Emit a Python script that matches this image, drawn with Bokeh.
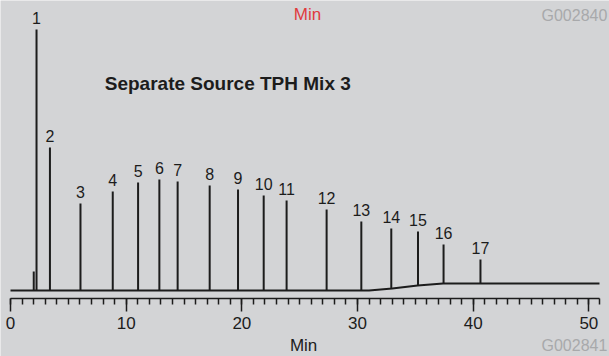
import numpy as np
from bokeh.plotting import figure
from bokeh.models import Range1d, LinearAxis, FixedTicker, Label, ColumnDataSource
from bokeh.core.properties import value
from bokeh.embed import file_html
from bokeh.resources import INLINE

# ---- data ----
peak_labels = [str(i) for i in range(1, 18)]
peak_times = [2.25, 3.41, 6.05, 8.84, 11.03, 12.87, 14.45, 17.22, 19.67,
              21.89, 23.87, 27.33, 30.33, 32.92, 35.23, 37.44, 40.63]
peak_heights = [261, 143, 87, 99, 108, 111, 109, 105, 101,
                95, 90, 81, 69, 62, 59, 46, 31]
minor_peak_times = [2.01]
minor_peak_heights = [19]
baseline_times = [0, 31.0, 33.0, 35.2, 37.4, 50.92]
baseline_levels = [0, 0, 2, 5, 7, 7]
major_ticks = [0, 10, 20, 30, 40, 50]
minor_ticks = list(range(0, 51)) + [50.92]
axis_end = 50.92

BG = "#d3d4d6"
INK = "#1c1c1c"
FONT = "Liberation Sans"
LABEL_GAP = 12   # px above the peak apex

p = figure(width=609, height=356,
           x_range=Range1d(-0.8646, 51.786), y_range=Range1d(-66, 290),
           output_backend="svg", toolbar_location=None, title=None,
           x_axis_type=None, y_axis_type=None,
           min_border_left=0, min_border_right=0,
           min_border_top=0, min_border_bottom=0)
p.background_fill_color = BG
p.border_fill_color = BG
p.outline_line_color = None

axis = LinearAxis(ticker=FixedTicker(ticks=major_ticks, minor_ticks=minor_ticks),
                  fixed_location=-8, bounds=(0, axis_end))
axis.axis_line_color = INK
axis.axis_line_width = 1.5
axis.major_tick_line_color = INK
axis.major_tick_line_width = 1.5
axis.minor_tick_line_color = INK
axis.minor_tick_line_width = 1.5
axis.major_tick_in = 0
axis.major_tick_out = 13
axis.minor_tick_in = 0
axis.minor_tick_out = 6
axis.major_label_standoff = 5
axis.major_label_text_font = FONT
axis.major_label_text_font_size = "17px"
axis.major_label_text_color = INK
p.add_layout(axis, "below")

# baseline trace
p.line(baseline_times, baseline_levels, line_color=INK, line_width=2)

# peaks
base_at = np.interp(peak_times, baseline_times, baseline_levels)
src = ColumnDataSource(dict(t=peak_times, h=peak_heights, b=base_at,
                            lab=peak_labels,
                            ly=[h + LABEL_GAP for h in peak_heights]))
p.segment(x0="t", y0="b", x1="t", y1="h", source=src,
          line_color=INK, line_width=2)
mb = np.interp(minor_peak_times, baseline_times, baseline_levels)
p.segment(x0=minor_peak_times, y0=mb, x1=minor_peak_times, y1=minor_peak_heights,
          line_color=INK, line_width=2)

p.text(x="t", y="ly", text="lab", source=src, text_align="center",
       text_baseline="alphabetic", text_font=value(FONT),
       text_font_size="16px", text_color=INK)

# annotations
p.add_layout(Label(x=8.15, y=207.3, text="Separate Source TPH Mix 3",
                   text_font=FONT, text_font_size="19px", text_font_style="bold",
                   text_color=INK, text_align="left", text_baseline="alphabetic"))
p.add_layout(Label(x=25.67, y=275.7, text="Min", text_font=FONT,
                   text_font_size="17px", text_color="#e03a3e",
                   text_align="center", text_baseline="alphabetic"))
p.add_layout(Label(x=51.6, y=275.3, text="G002840", text_font=FONT,
                   text_font_size="16px", text_color="#a8a9ab",
                   text_align="right", text_baseline="alphabetic"))
p.add_layout(Label(x=25.34, y=-55, text="Min", text_font=FONT,
                   text_font_size="17px", text_color=INK,
                   text_align="center", text_baseline="alphabetic"))
p.add_layout(Label(x=51.6, y=-54.7, text="G002841", text_font=FONT,
                   text_font_size="16px", text_color="#a8a9ab",
                   text_align="right", text_baseline="alphabetic"))

open("out.html", "w").write(file_html(p, INLINE))
